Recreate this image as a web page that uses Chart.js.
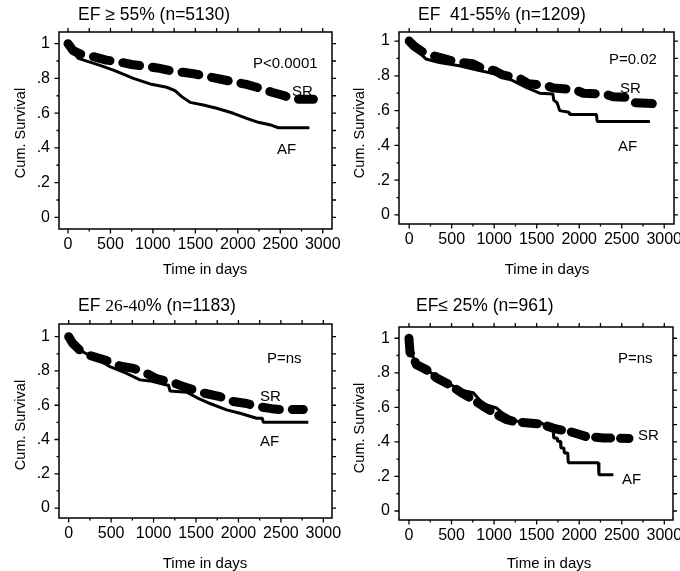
<!DOCTYPE html>
<html>
<head>
<meta charset="utf-8">
<script src="https://cdn.jsdelivr.net/npm/chart.js@4/dist/chart.umd.min.js"></script>
<style>
  html, body { margin:0; padding:0; background:#fff; overflow:hidden; }
  #wrap { position:relative; width:680px; height:571px; background:#fff; overflow:hidden;
          font-family:"Liberation Sans", Arial, Helvetica, sans-serif; color:#000; }
  canvas { position:absolute; }
  .t { position:absolute; white-space:pre; transform:translateY(-50%); line-height:1; }
  .ttl { font-size:17.5px; }
  .xt { font-size:15px; transform:translate(-50%,-50%); }
  .yt { font-size:14.5px; transform:translate(-50%,-50%) rotate(-90deg); }
  .ann { font-size:15px; }
  .serif { font-family:"Liberation Serif", "Times New Roman", serif; }
</style>
</head>
<body>
<div id="wrap">
  <canvas id="c1" width="370" height="285" style="left:0;top:0"></canvas>
  <canvas id="c2" width="370" height="285" style="left:340px;top:0"></canvas>
  <canvas id="c3" width="370" height="286" style="left:0;top:285px"></canvas>
  <canvas id="c4" width="370" height="286" style="left:340px;top:285px"></canvas>

  <div class="t ttl" style="left:78px;top:15px">EF ≥ 55% (n=5130)</div>
  <div class="t ttl" style="left:418px;top:15px">EF  41-55% (n=1209)</div>
  <div class="t ttl" style="left:78px;top:306px">EF <span class="serif">26-40</span>% (n=1183)</div>
  <div class="t ttl" style="left:416px;top:306px">EF≤ 25% (n=961)</div>

  <div class="t xt" style="left:205px;top:268px">Time in days</div>
  <div class="t xt" style="left:547px;top:268px">Time in days</div>
  <div class="t xt" style="left:205px;top:562px">Time in days</div>
  <div class="t xt" style="left:549px;top:562px">Time in days</div>

  <div class="t yt" style="left:20px;top:133px">Cum. Survival</div>
  <div class="t yt" style="left:359px;top:133px">Cum. Survival</div>
  <div class="t yt" style="left:20px;top:425px">Cum. Survival</div>
  <div class="t yt" style="left:359px;top:428px">Cum. Survival</div>

  <div class="t ann" style="left:253px;top:62px">P&lt;0.0001</div>
  <div class="t ann" style="left:292px;top:90px">SR</div>
  <div class="t ann" style="left:277px;top:148px">AF</div>

  <div class="t ann" style="left:609px;top:58px">P=0.02</div>
  <div class="t ann" style="left:620px;top:87px">SR</div>
  <div class="t ann" style="left:618px;top:145px">AF</div>

  <div class="t ann" style="left:267px;top:357px">P=ns</div>
  <div class="t ann" style="left:260px;top:395px">SR</div>
  <div class="t ann" style="left:260px;top:440px">AF</div>

  <div class="t ann" style="left:618px;top:357px">P=ns</div>
  <div class="t ann" style="left:638px;top:434px">SR</div>
  <div class="t ann" style="left:622px;top:478px">AF</div>
</div>
<script>
// ---- Axis ticks ----
const xTickVals   = [0, 500, 1000, 1500, 2000, 2500, 3000];
const xTickLabels = ['0', '500', '1000', '1500', '2000', '2500', '3000'];
const xMinorVals  = [250, 750, 1250, 1750, 2250, 2750];
const yTickVals   = [0, 0.2, 0.4, 0.6, 0.8, 1];
const yTickLabels = ['0', '.2', '.4', '.6', '.8', '1'];
const yMinorVals  = [0.1, 0.3, 0.5, 0.7, 0.9];

// ---- Panel 1: EF >= 55% ----
const p1SrDays = [0, 60, 150, 300, 450, 600, 750, 900, 1050, 1200, 1350, 1500, 1650, 1800, 1950, 2100, 2250, 2400, 2550, 2650, 2890];
const p1SrSurv = [1, 0.96, 0.94, 0.925, 0.905, 0.895, 0.88, 0.87, 0.86, 0.845, 0.835, 0.825, 0.81, 0.795, 0.78, 0.765, 0.745, 0.72, 0.70, 0.68, 0.68];
const p1AfDays = [0, 30, 120, 250, 377, 534, 650, 770, 966, 1162, 1260, 1339, 1437, 1594, 1751, 1947, 2104, 2242, 2400, 2477, 2843];
const p1AfSurv = [1, 0.97, 0.915, 0.895, 0.875, 0.848, 0.825, 0.80, 0.768, 0.749, 0.73, 0.695, 0.662, 0.647, 0.628, 0.599, 0.57, 0.547, 0.53, 0.516, 0.516];

// ---- Panel 2: EF 41-55% ----
const p2SrDays = [0, 60, 150, 250, 400, 550, 750, 850, 1000, 1100, 1300, 1400, 1600, 1700, 1950, 2050, 2300, 2400, 2600, 2650, 2870];
const p2SrSurv = [1, 0.97, 0.94, 0.92, 0.90, 0.88, 0.87, 0.845, 0.83, 0.805, 0.785, 0.755, 0.745, 0.73, 0.72, 0.70, 0.695, 0.68, 0.675, 0.645, 0.64];
const p2AfDays = [0, 80, 197, 354, 590, 826, 1022, 1219, 1376, 1534, 1691, 1700, 1740, 1770, 1880, 1888, 2202, 2212, 2831];
const p2AfSurv = [1, 0.95, 0.897, 0.877, 0.858, 0.83, 0.81, 0.772, 0.734, 0.70, 0.695, 0.66, 0.645, 0.60, 0.59, 0.578, 0.578, 0.537, 0.537];

// ---- Panel 3: EF 26-40% ----
const p3SrDays = [0, 50, 133, 250, 448, 600, 762, 900, 1036, 1233, 1350, 1468, 1600, 1783, 1900, 2097, 2200, 2390, 2489, 2764];
const p3SrSurv = [1, 0.96, 0.92, 0.89, 0.86, 0.83, 0.815, 0.79, 0.755, 0.73, 0.71, 0.69, 0.67, 0.65, 0.625, 0.61, 0.595, 0.58, 0.575, 0.575];
const p3AfDays = [0, 60, 133, 250, 369, 487, 683, 840, 958, 1154, 1175, 1194, 1390, 1508, 1665, 1861, 2018, 2214, 2280, 2293, 2823];
const p3AfSurv = [1, 0.96, 0.92, 0.89, 0.86, 0.825, 0.786, 0.748, 0.742, 0.718, 0.718, 0.683, 0.676, 0.645, 0.61, 0.573, 0.553, 0.524, 0.524, 0.50, 0.50];

// ---- Panel 4: EF <= 25% ----
const p4SrDays = [0, 12, 90, 208, 325, 443, 600, 756, 873, 1030, 1148, 1265, 1539, 1696, 1774, 1892, 2088, 2284, 2585];
const p4SrSurv = [1, 0.92, 0.846, 0.817, 0.77, 0.74, 0.69, 0.644, 0.606, 0.558, 0.529, 0.515, 0.504, 0.48, 0.47, 0.46, 0.43, 0.423, 0.42];
const p4AfDays = [0, 12, 90, 208, 325, 443, 600, 756, 873, 1030, 1100, 1265, 1539, 1650, 1696, 1700, 1740, 1745, 1780, 1785, 1820, 1825, 1865, 1872, 2225, 2232, 2401];
const p4AfSurv = [1, 0.93, 0.85, 0.82, 0.775, 0.745, 0.70, 0.685, 0.62, 0.596, 0.567, 0.52, 0.515, 0.48, 0.46, 0.423, 0.423, 0.404, 0.404, 0.365, 0.365, 0.336, 0.336, 0.28, 0.28, 0.21, 0.21];

const zip = (xs, ys) => xs.map((x, i) => ({ x, y: ys[i] }));

const framePlugin = {
  id: 'frame',
  afterDraw(chart) {
    const { ctx, chartArea: a, scales: { x, y } } = chart;
    ctx.save();
    ctx.strokeStyle = '#000';
    ctx.lineWidth = 1.5;
    ctx.strokeRect(a.left, a.top, a.right - a.left, a.bottom - a.top);
    ctx.lineWidth = 1.3;
    ctx.beginPath();
    xTickVals.forEach(v => {
      const p = x.getPixelForValue(v);
      ctx.moveTo(p, a.bottom); ctx.lineTo(p, a.bottom + 4.5);
      ctx.moveTo(p, a.top); ctx.lineTo(p, a.top - 4);
    });
    xMinorVals.forEach(v => {
      const p = x.getPixelForValue(v);
      ctx.moveTo(p, a.bottom); ctx.lineTo(p, a.bottom + 2.5);
      ctx.moveTo(p, a.top); ctx.lineTo(p, a.top - 4);
    });
    yTickVals.forEach(v => {
      const p = y.getPixelForValue(v);
      ctx.moveTo(a.left, p); ctx.lineTo(a.left - 4.5, p);
      ctx.moveTo(a.right, p); ctx.lineTo(a.right + 4, p);
    });
    yMinorVals.forEach(v => {
      const p = y.getPixelForValue(v);
      ctx.moveTo(a.left, p); ctx.lineTo(a.left - 2.5, p);
      ctx.moveTo(a.right, p); ctx.lineTo(a.right + 4, p);
    });
    ctx.stroke();
    ctx.restore();
  }
};

const FONT = { family: '"Liberation Sans", Arial, Helvetica, sans-serif', size: 16 };

function makeChart(id, p) {
  new Chart(document.getElementById(id), {
    type: 'line',
    data: {
      datasets: [
        { label: 'SR', data: zip(p.srDays, p.srSurv), borderColor: '#000', borderWidth: 9,
          borderDash: p.dash, borderCapStyle: 'round', borderJoinStyle: 'round',
          pointRadius: 0, tension: 0, fill: false },
        { label: 'AF', data: zip(p.afDays, p.afSurv), borderColor: '#000', borderWidth: 3,
          pointRadius: 0, tension: 0, fill: false, borderJoinStyle: 'bevel', borderCapStyle: 'butt' }
      ]
    },
    options: {
      responsive: false, animation: false, events: [],
      layout: { padding: { left: 0, right: p.padR, top: p.padT, bottom: 0 } },
      plugins: { legend: { display: false }, tooltip: { enabled: false }, title: { display: false } },
      scales: {
        x: {
          type: 'linear', min: p.xMin, max: p.xMax,
          grid: { display: false, drawTicks: false }, border: { display: false },
          ticks: { font: FONT, color: '#000', padding: 6, maxRotation: 0, autoSkip: false,
                   callback: (v, i) => xTickLabels[i] },
          afterBuildTicks: s => { s.ticks = xTickVals.map(v => ({ value: v })); },
          afterFit: s => { s.height = p.xH; }
        },
        y: {
          type: 'linear', min: p.yMin, max: p.yMax,
          grid: { display: false, drawTicks: false }, border: { display: false },
          ticks: { font: FONT, color: '#000', padding: 9, autoSkip: false,
                   callback: (v, i) => yTickLabels[i] },
          afterBuildTicks: s => { s.ticks = yTickVals.map(v => ({ value: v })); },
          afterFit: s => { s.width = 59; }
        }
      }
    },
    plugins: [framePlugin]
  });
}

makeChart('c1', { srDays: p1SrDays, srSurv: p1SrSurv, afDays: p1AfDays, afSurv: p1AfSurv,
  dash: [17, 13], padR: 38, padT: 32, xH: 56, xMin: -106, xMax: 3109, yMin: -0.067, yMax: 1.067 });
makeChart('c2', { srDays: p2SrDays, srSurv: p2SrSurv, afDays: p2AfDays, afSurv: p2AfSurv,
  dash: [17, 13], padR: 36, padT: 32, xH: 61, xMin: -120, xMax: 3115, yMin: -0.052, yMax: 1.052 });
makeChart('c3', { srDays: p3SrDays, srSurv: p3SrSurv, afDays: p3AfDays, afSurv: p3AfSurv,
  dash: [17, 13], padR: 38, padT: 39, xH: 53, xMin: -114, xMax: 3102, yMin: -0.058, yMax: 1.074 });
makeChart('c4', { srDays: p4SrDays, srSurv: p4SrSurv, afDays: p4AfDays, afSurv: p4AfSurv,
  dash: [15, 10], padR: 37, padT: 42, xH: 51, xMin: -117, xMax: 3102, yMin: -0.052, yMax: 1.065 });
</script>
</body>
</html>
